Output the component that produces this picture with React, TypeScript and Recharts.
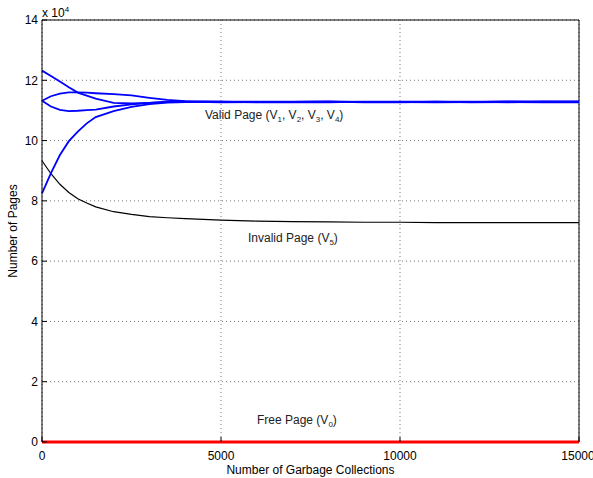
import React from "react"
import { LineChart, Line, XAxis, YAxis, CartesianGrid, ReferenceLine } from "recharts"

// x positions (number of garbage collections)
const collections = [0, 250, 500, 750, 1000, 1250, 1500, 2000, 2500, 3000, 3500, 4000, 5000, 6000, 7000, 8000, 9000, 10000, 11000, 12000, 13000, 14000, 15000]

// valid pages, four curves
const validV1 = [123200, 121400, 119600, 117700, 115900, 114900, 113900, 112500, 112300, 112500, 112800, 112900, 112800, 112900, 112800, 112700, 112900, 112800, 112800, 112900, 112700, 112900, 112800]
const validV2 = [113200, 114700, 115600, 116000, 116000, 115900, 115700, 115400, 115000, 114200, 113500, 113100, 112900, 112800, 112900, 113000, 112800, 112900, 112900, 112800, 113000, 112800, 113000]
const validV3 = [113200, 111300, 110200, 109800, 109900, 110100, 110300, 111300, 112000, 112500, 112900, 112900, 112700, 112800, 112700, 112800, 112800, 112700, 112900, 112700, 112800, 112700, 112700]
const validV4 = [82500, 89200, 95200, 99800, 103000, 105700, 107800, 109800, 111200, 112100, 112600, 112800, 112900, 112700, 112800, 112900, 112700, 112800, 112700, 112800, 112900, 113000, 112900]

// invalid pages
const invalidV5 = [93300, 89000, 85500, 82800, 80700, 79300, 78000, 76400, 75500, 74800, 74400, 74100, 73600, 73300, 73100, 73000, 72900, 72900, 72800, 72800, 72800, 72800, 72800]

// free pages
const freeV0 = [0, 0, 0, 0, 0, 0, 0, 0, 0, 0, 0, 0, 0, 0, 0, 0, 0, 0, 0, 0, 0, 0, 0]

const xTicks = [0, 5000, 10000, 15000]
const yTicks = [0, 20000, 40000, 60000, 80000, 100000, 120000, 140000]

const rows = collections.map((gc, i) => ({
  gc,
  v1: validV1[i],
  v2: validV2[i],
  v3: validV3[i],
  v4: validV4[i],
  v5: invalidV5[i],
  v0: freeV0[i],
}))

const font = '"Liberation Sans", Arial, Helvetica, sans-serif'
const subStyle: React.CSSProperties = { fontSize: 8, verticalAlign: "-3px" }

export default function App() {
  return (
    <div style={{ position: "relative", width: 593, height: 478, fontFamily: font, background: "#fff" }}>
      <style>{"body{margin:0}"}</style>
      <LineChart width={593} height={478} data={rows} margin={{ top: 20, right: 14, bottom: 0, left: 0 }} style={{ fontFamily: font }}>
        <CartesianGrid stroke="#777" strokeDasharray="1 3" />
        <XAxis
          dataKey="gc"
          type="number"
          domain={[0, 15000]}
          ticks={xTicks}
          height={36}
          stroke="#000"
          axisLine={false}
          tickSize={-5}
          tickMargin={14}
          tick={{ fill: "#000", fontSize: 12 }}
          label={{ value: "Number of Garbage Collections", position: "insideBottom", offset: 4, fill: "#000", fontSize: 12 }}
        />
        <YAxis
          type="number"
          domain={[0, 140000]}
          ticks={yTicks}
          width={42}
          stroke="#000"
          tickSize={-5}
          tickMargin={9}
          tick={{ fill: "#000", fontSize: 12 }}
          tickFormatter={(v: number) => String(v / 10000)}
          label={{ value: "Number of Pages", angle: -90, position: "insideLeft", offset: 13, fill: "#000", fontSize: 12, style: { textAnchor: "middle" } }}
        />
        <ReferenceLine y={140000} stroke="#000" />
        <ReferenceLine x={15000} stroke="#000" />
        <Line type="linear" dataKey="v5" stroke="#000" strokeWidth={1.2} dot={false} isAnimationActive={false} />
        <Line type="linear" dataKey="v1" stroke="#0000ff" strokeWidth={1.8} dot={false} isAnimationActive={false} />
        <Line type="linear" dataKey="v2" stroke="#0000ff" strokeWidth={1.8} dot={false} isAnimationActive={false} />
        <Line type="linear" dataKey="v3" stroke="#0000ff" strokeWidth={1.8} dot={false} isAnimationActive={false} />
        <Line type="linear" dataKey="v4" stroke="#0000ff" strokeWidth={1.8} dot={false} isAnimationActive={false} />
        <Line type="linear" dataKey="v0" stroke="#ff0000" strokeWidth={3} dot={false} isAnimationActive={false} />
      </LineChart>

      <div style={{ position: "absolute", left: 42, top: 3, fontSize: 12, lineHeight: "14px", color: "#000" }}>
        x 10<span style={{ fontSize: 8, verticalAlign: "5px" }}>4</span>
      </div>
      <div style={{ position: "absolute", left: 205, top: 108, fontSize: 12, lineHeight: "14px", color: "#222", whiteSpace: "nowrap" }}>
        Valid Page (V<span style={subStyle}>1</span>, V<span style={subStyle}>2</span>, V<span style={subStyle}>3</span>, V<span style={subStyle}>4</span>)
      </div>
      <div style={{ position: "absolute", left: 248, top: 231, fontSize: 12, lineHeight: "14px", color: "#222", whiteSpace: "nowrap" }}>
        Invalid Page (V<span style={subStyle}>5</span>)
      </div>
      <div style={{ position: "absolute", left: 257, top: 413, fontSize: 12, lineHeight: "14px", color: "#222", whiteSpace: "nowrap" }}>
        Free Page (V<span style={subStyle}>0</span>)
      </div>
    </div>
  )
}
